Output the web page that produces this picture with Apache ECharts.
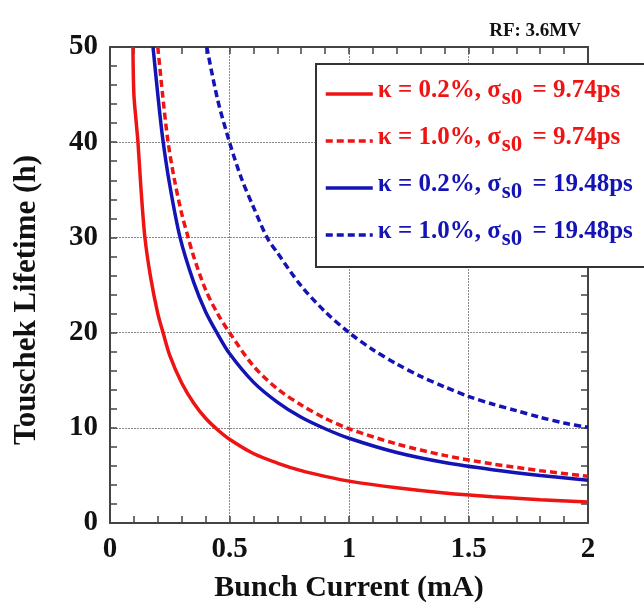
<!DOCTYPE html>
<html>
<head>
<meta charset="utf-8">
<style>
  html, body { margin: 0; padding: 0; background: #fff; }
  #chart { width: 644px; height: 608px; }
</style>
<script src="https://cdn.jsdelivr.net/npm/echarts@6/dist/echarts.min.js"></script>
</head>
<body>
<div id="chart"></div>
<script>
// Touschek lifetime vs bunch current, RF voltage 3.6 MV
const xTicks = [0, 0.5, 1, 1.5, 2];
const yTicks = [0, 10, 20, 30, 40, 50];

// kappa = 0.2%, sigma_s0 = 9.74 ps
const redSolidX = [0.096, 0.1, 0.11, 0.117, 0.13, 0.146, 0.17, 0.2, 0.222, 0.25, 0.3, 0.35, 0.4, 0.45, 0.5, 0.6, 0.7, 0.8, 0.9, 1.0, 1.2, 1.4, 1.6, 1.8, 2.0];
const redSolidY = [50, 45, 42, 40, 35, 30, 25.8, 22, 20, 17.6, 14.7, 12.6, 11, 9.8, 8.8, 7.3, 6.3, 5.5, 4.9, 4.4, 3.7, 3.15, 2.75, 2.45, 2.2];

// kappa = 1.0%, sigma_s0 = 9.74 ps
const redDashX = [0.2, 0.22, 0.243, 0.27, 0.3, 0.327, 0.35, 0.4, 0.45, 0.5, 0.6, 0.7, 0.8, 0.9, 1.0, 1.2, 1.4, 1.6, 1.8, 2.0];
const redDashY = [50, 45, 40, 36, 32.5, 30, 28, 24.5, 22, 20, 16.5, 14.1, 12.4, 11, 9.9, 8.3, 7.1, 6.2, 5.5, 4.9];

// kappa = 0.2%, sigma_s0 = 19.48 ps
const blueSolidX = [0.18, 0.2, 0.22, 0.25, 0.293, 0.35, 0.4, 0.447, 0.5, 0.6, 0.7, 0.8, 0.9, 1.0, 1.2, 1.4, 1.6, 1.8, 2.0];
const blueSolidY = [50, 45, 40.5, 35.5, 30, 25.3, 22.2, 20, 17.8, 14.8, 12.7, 11.1, 9.9, 8.9, 7.4, 6.35, 5.6, 5.0, 4.5];

// kappa = 1.0%, sigma_s0 = 19.48 ps
const blueDashX = [0.405, 0.45, 0.5, 0.55, 0.6, 0.657, 0.7, 0.8, 0.9, 1.0, 1.1, 1.2, 1.3, 1.4, 1.5, 1.6, 1.7, 1.8, 1.9, 2.0];
const blueDashY = [50, 44.5, 40, 36.2, 33.2, 30, 28.4, 24.9, 22.2, 20, 18.2, 16.7, 15.4, 14.3, 13.3, 12.5, 11.8, 11.1, 10.5, 10.05];

const seriesNames = [
  'κ = 0.2%, σs0 = 9.74ps',
  'κ = 1.0%, σs0 = 9.74ps',
  'κ = 0.2%, σs0 = 19.48ps',
  'κ = 1.0%, σs0 = 19.48ps'
];

const RED = '#ee1414';
const BLUE = '#1414b4';
const SERIF = '"Liberation Serif", "Times New Roman", serif';

const zip = (xs, ys) => xs.map((x, i) => [x, ys[i]]);

function curve(name, xs, ys, color, dashed) {
  return {
    name: name,
    type: 'line',
    smooth: 0.3,
    showSymbol: false,
    symbol: 'none',
    data: zip(xs, ys),
    lineStyle: { color: color, width: 3.5, type: dashed ? [7, 4] : 'solid' },
    itemStyle: { color: color },
    z: 5
  };
}

const tickFont = { fontFamily: SERIF, fontWeight: 'bold', fontSize: 29, color: '#111' };
const axisLineStyle = { color: '#444', width: 2 };
const tickStyle = { color: '#444', width: 1.5 };

const chart = echarts.init(document.getElementById('chart'), null, { renderer: 'canvas' });

chart.setOption({
  backgroundColor: '#fff',
  animation: false,
  title: {
    text: 'RF: 3.6MV',
    right: 58,
    top: 17,
    textStyle: { fontFamily: SERIF, fontWeight: 'bold', fontSize: 19, color: '#111' }
  },
  grid: { left: 110, right: 56, top: 47, bottom: 84 },
  legend: {
    orient: 'vertical',
    left: 316,
    top: 64,
    padding: [14, 40, 16, 8],
    itemGap: 15,
    itemWidth: 47,
    itemHeight: 12,
    backgroundColor: '#fff',
    borderColor: '#333',
    borderWidth: 2,
    borderRadius: 0,
    itemStyle: { opacity: 0 },
    lineStyle: { width: 3.5 },
    data: seriesNames.map((n, i) => ({
      name: n,
      textStyle: { color: i < 2 ? RED : BLUE }
    })),
    formatter: function (name) {
      const idx = name.indexOf('σs0');
      const head = name.slice(0, idx + 1);
      const tail = name.slice(idx + 3);
      return '{t|' + head + '}{s|s0}{t|' + tail + '}';
    },
    textStyle: {
      fontFamily: SERIF,
      fontWeight: 'bold',
      fontSize: 25,
      rich: {
        t: { fontFamily: SERIF, fontWeight: 'bold', fontSize: 25, lineHeight: 32, verticalAlign: 'top', padding: [0, 0, 0, 0] },
        s: { fontFamily: SERIF, fontWeight: 'bold', fontSize: 23, lineHeight: 32, verticalAlign: 'bottom', padding: [0, 4, 0, 1] }
      }
    }
  },
  xAxis: [
    {
      type: 'value',
      min: 0,
      max: 2,
      interval: 0.5,
      name: 'Bunch Current (mA)',
      nameLocation: 'middle',
      nameGap: 50,
      nameTextStyle: { fontFamily: SERIF, fontWeight: 'bold', fontSize: 30, color: '#111' },
      axisLine: { show: true, onZero: false, lineStyle: axisLineStyle },
      axisTick: { show: true, inside: true, length: 7, lineStyle: tickStyle },
      minorTick: { show: true, splitNumber: 5, length: 7, lineStyle: tickStyle },
      axisLabel: Object.assign({ margin: 12, formatter: v => String(v) }, tickFont),
      splitLine: { show: true, lineStyle: { color: '#888', width: 1, type: [2, 1] } }
    },
    {
      type: 'value',
      position: 'top',
      min: 0,
      max: 2,
      interval: 0.5,
      axisLine: { show: true, onZero: false, lineStyle: axisLineStyle },
      axisTick: { show: true, inside: true, length: 7, lineStyle: tickStyle },
      minorTick: { show: true, splitNumber: 5, length: 7, lineStyle: tickStyle },
      axisLabel: { show: false },
      splitLine: { show: false }
    }
  ],
  yAxis: [
    {
      type: 'value',
      min: 0,
      max: 50,
      interval: 10,
      name: 'Touschek Lifetime (h)',
      nameLocation: 'middle',
      nameGap: 68,
      nameRotate: 90,
      nameTextStyle: { fontFamily: SERIF, fontWeight: 'bold', fontSize: 31, color: '#111', padding: [0, 30, 0, 0] },
      axisLine: { show: true, onZero: false, lineStyle: axisLineStyle },
      axisTick: { show: true, inside: true, length: 7, lineStyle: tickStyle },
      minorTick: { show: true, splitNumber: 5, length: 7, lineStyle: tickStyle },
      axisLabel: Object.assign({ margin: 12 }, tickFont),
      splitLine: { show: true, lineStyle: { color: '#888', width: 1, type: [2, 1] } }
    },
    {
      type: 'value',
      position: 'right',
      min: 0,
      max: 50,
      interval: 10,
      axisLine: { show: true, onZero: false, lineStyle: axisLineStyle },
      axisTick: { show: true, inside: true, length: 7, lineStyle: tickStyle },
      minorTick: { show: true, splitNumber: 5, length: 7, lineStyle: tickStyle },
      axisLabel: { show: false },
      splitLine: { show: false }
    }
  ],
  series: [
    curve(seriesNames[0], redSolidX, redSolidY, RED, false),
    curve(seriesNames[1], redDashX, redDashY, RED, true),
    curve(seriesNames[2], blueSolidX, blueSolidY, BLUE, false),
    curve(seriesNames[3], blueDashX, blueDashY, BLUE, true)
  ]
});
</script>
</body>
</html>
